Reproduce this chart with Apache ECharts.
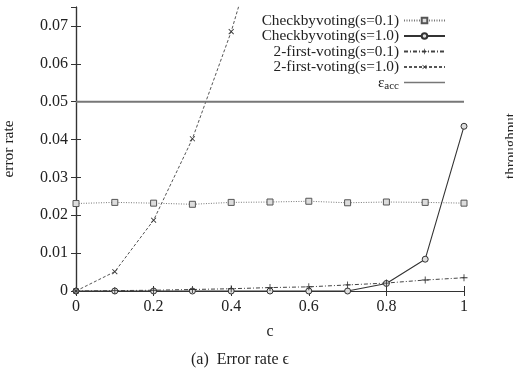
<!DOCTYPE html>
<html>
<head>
<meta charset="utf-8">
<script src="https://cdn.jsdelivr.net/npm/echarts@6/dist/echarts.min.js"></script>
<style>
  html, body { margin: 0; padding: 0; background: #fff; }
  #chart { width: 513px; height: 372px; }
</style>
</head>
<body>
<div id="chart"></div>
<script>
// x values (c)
const cValues = [0, 0.1, 0.2, 0.3, 0.4, 0.5, 0.6, 0.7, 0.8, 0.9, 1.0]

// error rates
const checkS01 = [0.0231, 0.0234, 0.0232, 0.0229, 0.0234, 0.0235, 0.0237, 0.0233, 0.0235, 0.0234, 0.0232]
const checkS10 = [0, 0, 0, 0, 0, 0, 0, 0, 0.0020, 0.0084, 0.0435]
const firstS01 = [0, 0.0001, 0.0002, 0.0004, 0.0006, 0.0009, 0.0011, 0.0016, 0.0021, 0.0029, 0.0035]
const firstS10 = [0, 0.0051, 0.0187, 0.0402, 0.0685, 0.103]
const epsAcc = 0.05

const seriesNames = ['Checkbyvoting(s=0.1)', 'Checkbyvoting(s=1.0)', '2-first-voting(s=0.1)', '2-first-voting(s=1.0)', 'εacc']

const font = "'Liberation Serif', 'DejaVu Serif', serif"
const plusPath = 'path://M4.4,0H5.6V4.4H10V5.6H5.6V10H4.4V5.6H0V4.4H4.4Z'

function pairs(ys) {
  return ys.map((y, i) => [cValues[i], y])
}

const chart = echarts.init(document.getElementById('chart'))

const axisLine = { show: true, lineStyle: { color: '#333', width: 1.2 } }
const axisTick = { show: true, inside: true, length: 5, lineStyle: { color: '#333' } }

const option = {
  animation: false,
  backgroundColor: '#fff',
  textStyle: { fontFamily: font },
  title: {
    text: '(a)  Error rate ϵ',
    left: 191,
    top: 352,
    padding: 0,
    textStyle: { fontFamily: font, fontSize: 16, fontWeight: 'normal', color: '#222' }
  },
  graphic: [
    {
      type: 'text',
      x: 511,
      y: 146,
      rotation: Math.PI / 2,
      style: {
        text: 'throughput',
        font: '15px ' + font,
        fill: '#222',
        textAlign: 'center',
        textVerticalAlign: 'middle'
      }
    }
  ],
  legend: {
    data: seriesNames.slice(0, 4).concat([{ name: 'εacc', icon: 'path://M0,0H41V1.6H0Z' }]),
    orient: 'vertical',
    align: 'right',
    right: 67,
    top: 13,
    padding: 0,
    itemWidth: 41,
    itemHeight: 7,
    itemGap: 0.5,
    textStyle: {
      fontFamily: font,
      fontSize: 15.3,
      color: '#222',
      rich: {
        e: { fontFamily: font, fontSize: 15.3, color: '#222' },
        s: { fontFamily: font, fontSize: 11, color: '#222', padding: [8, 0, 0, 0] }
      }
    },
    formatter: function (name) {
      return name === 'εacc' ? '{e|ε}{s|acc}' : name
    }
  },
  grid: { left: 76, right: 49, top: 7, bottom: 81, outerBoundsMode: 'none' },
  xAxis: [
    {
      type: 'value',
      min: 0,
      max: 1,
      interval: 0.2,
      name: 'c',
      nameLocation: 'middle',
      nameGap: 33,
      nameTextStyle: { fontFamily: font, fontSize: 16, color: '#222' },
      axisLine: axisLine,
      axisTick: axisTick,
      splitLine: { show: false },
      axisLabel: { fontFamily: font, fontSize: 16, color: '#222', margin: 8 }
    },
    {
      type: 'value',
      position: 'top',
      min: 0,
      max: 1,
      interval: 0.2,
      axisLine: axisLine,
      axisTick: axisTick,
      splitLine: { show: false },
      axisLabel: { show: false }
    }
  ],
  yAxis: [
    {
      type: 'value',
      min: 0,
      max: 0.075,
      interval: 0.01,
      name: 'error rate',
      nameLocation: 'middle',
      nameGap: 59,
      nameTextStyle: { fontFamily: font, fontSize: 15.5, color: '#222' },
      axisLine: axisLine,
      axisTick: axisTick,
      splitLine: { show: false },
      axisLabel: { fontFamily: font, fontSize: 16, color: '#222', margin: 8, showMaxLabel: false }
    },
    {
      type: 'value',
      position: 'right',
      min: 0,
      max: 0.075,
      interval: 0.01,
      axisLine: axisLine,
      axisTick: axisTick,
      splitLine: { show: false },
      axisLabel: { show: false }
    }
  ],
  series: [
    {
      name: seriesNames[0],
      type: 'line',
      data: pairs(checkS01),
      symbol: 'rect',
      symbolSize: 6,
      itemStyle: { color: '#ddd', borderColor: '#555', borderWidth: 1 },
      lineStyle: { color: '#777', width: 1, type: [1, 1.5] }
    },
    {
      name: seriesNames[1],
      type: 'line',
      data: pairs(checkS10),
      symbol: 'circle',
      symbolSize: 6,
      itemStyle: { color: '#ddd', borderColor: '#333', borderWidth: 1 },
      lineStyle: { color: '#333', width: 1.1 }
    },
    {
      name: seriesNames[2],
      type: 'line',
      data: pairs(firstS01),
      symbol: plusPath,
      symbolSize: 7,
      itemStyle: { color: '#333', borderWidth: 0 },
      lineStyle: { color: '#444', width: 1, type: [4, 2, 1, 2] }
    },
    {
      name: seriesNames[3],
      type: 'line',
      data: pairs(firstS10),
      symbol: plusPath,
      symbolSize: 7,
      symbolRotate: 45,
      itemStyle: { color: '#333', borderWidth: 0 },
      lineStyle: { color: '#555', width: 1, type: [3, 2] }
    },
    {
      name: seriesNames[4],
      type: 'line',
      data: [[0, epsAcc], [1, epsAcc]],
      symbol: 'none',
      itemStyle: { color: '#777' },
      lineStyle: { color: '#777', width: 2 }
    }
  ]
}

chart.setOption(option)
</script>
</body>
</html>
